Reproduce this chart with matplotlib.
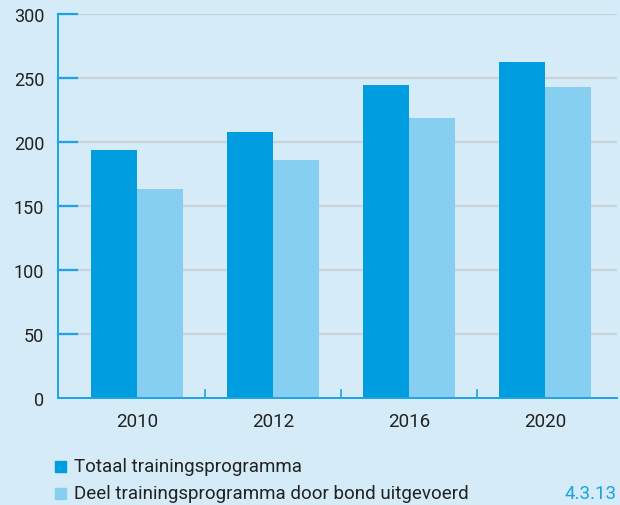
import matplotlib
matplotlib.use("Agg")
import matplotlib.pyplot as plt
import numpy as np
from matplotlib.patches import Rectangle

plt.rcParams['font.family'] = ['Roboto', 'DejaVu Sans']

years = ['2010', '2012', '2016', '2020']
totaal = [194, 208, 245, 263]
deel = [163, 186, 219, 243]
labels = ['Totaal trainingsprogramma', 'Deel trainingsprogramma door bond uitgevoerd']

bg = '#d5ebf8'
dark = '#009de0'
light = '#87cff0'
axis_blue = '#1ba3e2'
grid_grey = '#c9d1d9'

fig = plt.figure(figsize=(6.2, 5.06), dpi=100, facecolor=bg)
ax = fig.add_axes([0.0935, 0.2115, 0.9015, 0.7585], facecolor=bg)

x = np.arange(len(years))
w = 0.338
ax.bar(x - w/2, totaal, w, color=dark, zorder=3)
ax.bar(x + w/2, deel, w, color=light, zorder=3)

ax.set_xlim(-0.58, 3.53)
ax.set_ylim(0, 300)

ax.set_yticks(range(0, 301, 50))
for v in range(50, 301, 50):
    ax.axhline(v, color=grid_grey, lw=1.6, zorder=1)
    ax.plot([-0.58, -0.44], [v, v], color=axis_blue, lw=1.6, zorder=2, clip_on=False)

ax.tick_params(axis='y', length=0, pad=10, labelsize=13, colors='#222222')
ax.set_xticks(x)
ax.set_xticklabels(years)
ax.tick_params(axis='x', length=0, pad=10, labelsize=13.5, colors='#222222')
for b in [0.5, 1.5, 2.5]:
    ax.plot([b, b], [0, 6], color=axis_blue, lw=1.2, zorder=4)

for s in ['top', 'right']:
    ax.spines[s].set_visible(False)
ax.spines['left'].set_color(axis_blue)
ax.spines['bottom'].set_color(axis_blue)
ax.spines['left'].set_linewidth(1.4)
ax.spines['bottom'].set_linewidth(1.4)
ax.spines['bottom'].set_zorder(5)

# legend
for i, (lab, col) in enumerate(zip(labels, [dark, light])):
    yy = 1 - (467 + i * 27) / 506
    fig.patches.append(Rectangle((55/620, yy - 5.5/506), 11/620, 11/506,
                                 transform=fig.transFigure, color=col))
    fig.text(74/620, yy, lab, fontsize=13.5, va='center', color='#222222')

fig.text(617/620, 1 - 494/506, '4.3.13', fontsize=13.5, va='center', ha='right', color=axis_blue)

fig.savefig('out.png', dpi=100, facecolor=bg)
